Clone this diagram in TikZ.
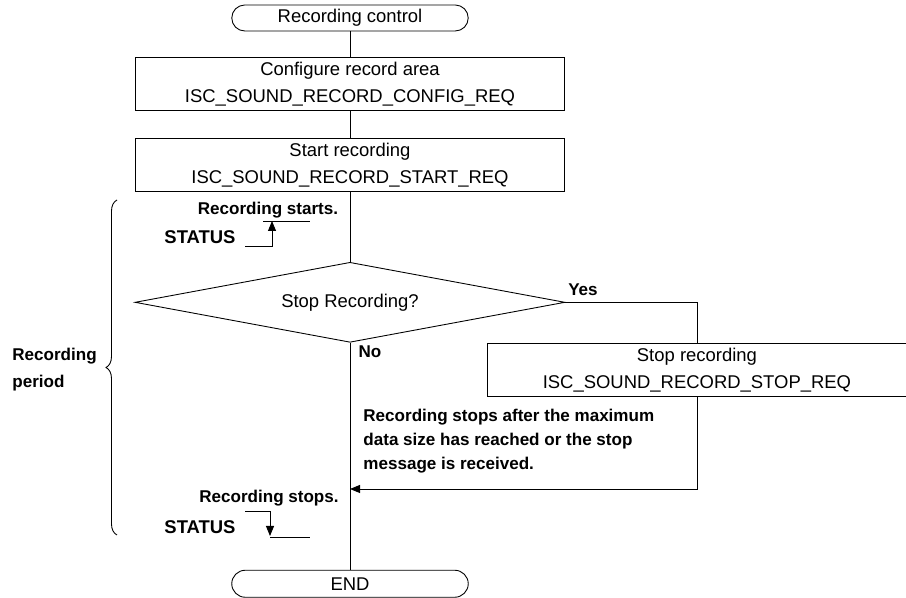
\documentclass[tikz,border=0pt]{standalone}
\usepackage{fontspec}
\setmainfont{Liberation Sans}
\usepackage{tikz}
\usetikzlibrary{arrows.meta,shapes,shapes.geometric,shapes.misc,decorations,decorations.pathreplacing,calc}
\tikzstyle{terminal}=[draw, rounded rectangle, text centered,
  minimum width=4.8cm, minimum height=0.52cm, inner sep=1pt]
\tikzstyle{process}=[draw, text centered, align=center,
  minimum width=8.58cm, minimum height=1.06cm, inner sep=1pt]
\tikzstyle{decision}=[draw, diamond, aspect=5.4, text centered,
  minimum width=8.6cm, minimum height=1.6cm, inner sep=0pt]
\tikzstyle{remark}=[font=\fontsize{9.7}{13.6}\selectfont\bfseries, inner sep=0pt]
\tikzstyle{statuslabel}=[font=\fontsize{10.5}{13.6}\selectfont\bfseries, inner sep=0pt]

\begin{document}
\begin{tikzpicture}[>={Triangle[length=0.2cm,width=0.16cm]}, line width=0.5pt,
  font=\fontsize{10.5}{15.3}\selectfont]
  \useasboundingbox (0,0) rectangle (18.12,-11.96);

  \node(start)[terminal] at (7,-0.36) {Recording control};

  \path(start.south)+(0,-1.06) node(config)[process]
  {Configure record area\\ISC\_SOUND\_RECORD\_CONFIG\_REQ};
  \draw (start.south) -- (config.north);

  \path(config.south)+(0,-1.08) node(startrec)[process]
  {Start recording\\ISC\_SOUND\_RECORD\_START\_REQ};
  \draw (config.south) -- (startrec.north);

  \path(startrec.south)+(0,-2.2) node(stopq)[decision]{Stop Recording?};
  \draw (startrec.south) -- (stopq.north);

  \path(stopq.east)+(2.63,-1.35) node(stoprec)[process, minimum width=8.4cm]
  {Stop recording\\ISC\_SOUND\_RECORD\_STOP\_REQ};
  \draw (stopq.east) -| (stoprec.north);
  \node[remark] at (11.66,-5.8) {Yes};

  \path(stopq.south)+(0,-4.82) node(end)[terminal, minimum height=0.54cm]{END};
  \draw (stopq.south) -- (end.north);
  \node[remark] at (7.4,-7.04) {No};

  % back to the main line
  \coordinate (back) at (7,-9.78);
  \draw[->] (stoprec.south) |- (back);
  \node(note)[remark, anchor=north west, align=left] at (7.26,-8.18)
  {Recording stops after the maximum\\data size has reached or the stop\\message is received.};

  % status messages
  \node(started)[remark] at (5.36,-4.2) {Recording starts.};
  \node(status1)[statuslabel] at (4.0,-4.74) {STATUS};
  \coordinate (up1) at (4.9,-4.92);
  \coordinate (up2) at (5.44,-4.92);
  \coordinate (up3) at (5.44,-4.42);
  \draw[->] (up1) -- (up2) -- (up3);
  \draw (5.26,-4.42) -- (6.2,-4.42);

  \node(stopped)[remark] at (5.38,-9.96) {Recording stops.};
  \node(status2)[statuslabel] at (4.0,-10.54) {STATUS};
  \coordinate (dn1) at (4.9,-10.22);
  \coordinate (dn2) at (5.4,-10.22);
  \coordinate (dn3) at (5.4,-10.72);
  \draw[->] (dn1) -- (dn2) -- (dn3);
  \draw (5.4,-10.74) -- (6.2,-10.74);

  % recording period
  \draw[decorate, decoration={brace, amplitude=0.22cm}] (2.34,-10.7) -- (2.34,-4.0);
  \node(period)[remark, anchor=west, align=left, font=\fontsize{9.7}{15.3}\selectfont\bfseries]
  at (0.24,-7.39) {Recording\\period};
\end{tikzpicture}
\end{document}
